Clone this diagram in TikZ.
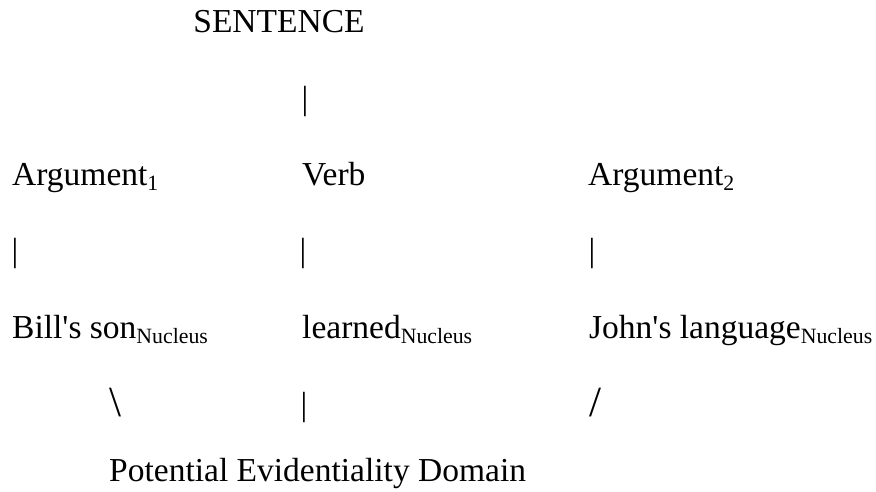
\documentclass[tikz,border=0pt]{standalone}
\usepackage{fontspec}
\setmainfont{Liberation Serif}
\usepackage{tikz}

\newcommand{\lowtag}[1]{\raisebox{-0.17em}{\fontsize{21.8}{24}\selectfont #1}}

\tikzset{
    word/.style={anchor=base west, inner sep=0pt, font=\fontsize{33.5}{40}\selectfont},
    linkglyph/.style={anchor=base, inner sep=0pt, font=\fontsize{33.5}{40}\selectfont},
    slantglyph/.style={anchor=base, inner sep=0pt, font=\fontsize{43}{48}\selectfont}
}

\begin{document}
\begin{tikzpicture}[x=1pt,y=-1pt]
    \useasboundingbox (0,0) rectangle (876,491);
    % Topo
    \node[linkglyph] (sentence) at (279,32) {SENTENCE};
    \node[linkglyph] (barTop) at (305,109) {|};
    % Argumentos e verbo
    \node[word] (argA) at (12,185) {Argument\lowtag{1}};
    \node[word] (verb) at (302,185) {Verb};
    \node[word] (argB) at (588,185) {Argument\lowtag{2}};
    \node[linkglyph] (barA) at (15,261) {|};
    \node[linkglyph] (barV) at (303,261) {|};
    \node[linkglyph] (barB) at (592,261) {|};
    % Nucleos
    \node[word] (nucA) at (12,338) {Bill\textquotesingle s son\lowtag{Nucleus}};
    \node[word] (nucV) at (302,338) {learned\lowtag{Nucleus}};
    \node[word] (nucB) at (589,338) {John\textquotesingle s language\lowtag{Nucleus}};
    \node[slantglyph] (slashA) at (115,416) {\textbackslash};
    \node[linkglyph] (slashV) at (304,415) {|};
    \node[slantglyph] (slashB) at (595,416) {/};
    % Dominio
    \node[word] (domain) at (109,481) {Potential Evidentiality Domain};
\end{tikzpicture}
\end{document}
